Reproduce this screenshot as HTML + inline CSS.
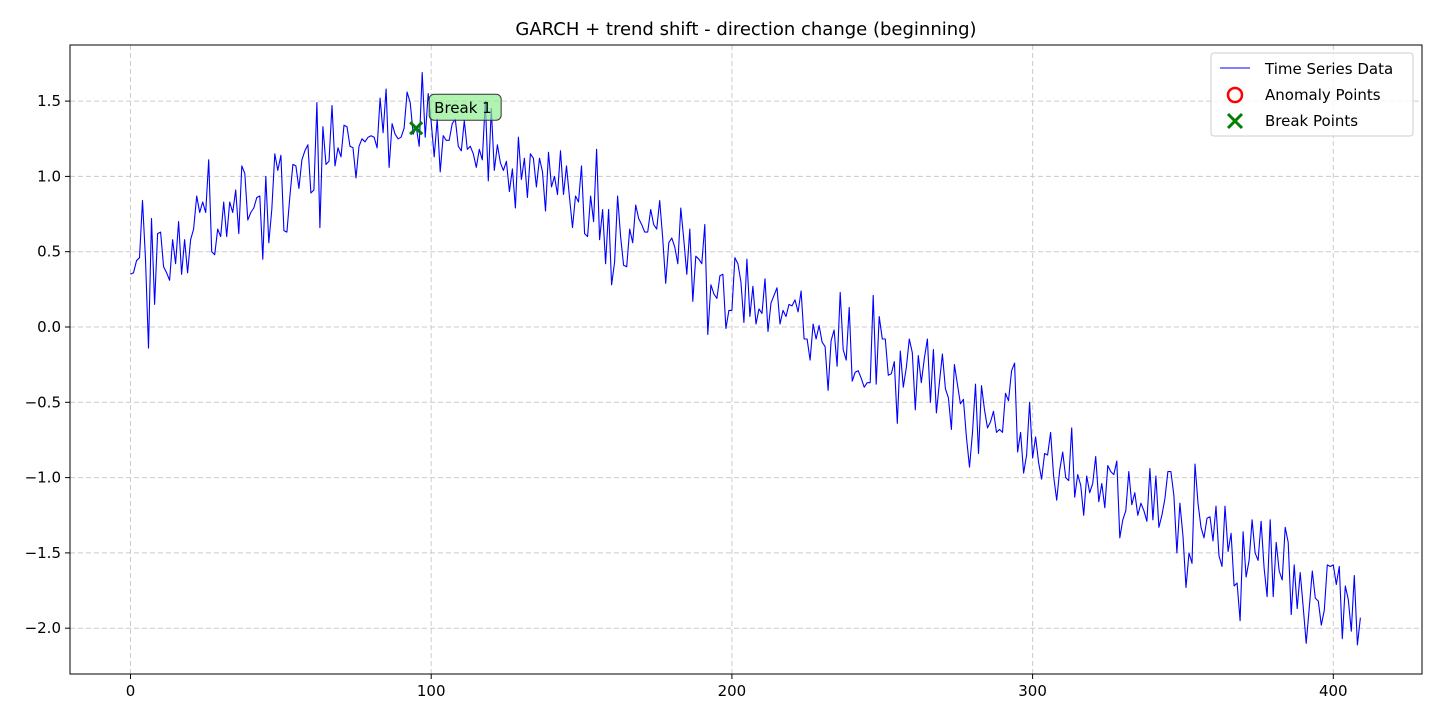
<!DOCTYPE html>
<html><head><meta charset="utf-8"><style>
body{margin:0;background:#fff;font-family:"Liberation Sans","DejaVu Sans",sans-serif}
svg text{font-family:"DejaVu Sans","Liberation Sans",sans-serif}
</style></head><body>
<svg id="chart" width="1440" height="720" xmlns="http://www.w3.org/2000/svg">
<rect width="1440" height="720" fill="#fff"/>
<text x="746" y="35" text-anchor="middle" font-size="18">GARCH + trend shift - direction change (beginning)</text>
<g id="grid"></g>
<g id="ticks"></g>
<polyline id="series" fill="none" stroke="#0000ff" stroke-width="1.1" stroke-linejoin="round"/>
<g id="marks"></g>
<rect x="70" y="45" width="1352" height="629" fill="none" stroke="#000" stroke-width="1"/>
<g>
<rect x="1211" y="53" width="202" height="83" rx="3" fill="#fff" fill-opacity="0.8" stroke="#ccc"/>
<line x1="1220" y1="68" x2="1250" y2="68" stroke="#0000ff" stroke-width="1.1"/>
<text x="1265" y="74" font-size="15">Time Series Data</text>
<circle cx="1235" cy="95" r="7" fill="none" stroke="#ff0000" stroke-width="2.5"/>
<text x="1265" y="100" font-size="15">Anomaly Points</text>
<path d="M1228,114 L1242,128 M1242,114 L1228,128" stroke="#008000" stroke-width="3"/>
<text x="1265" y="126" font-size="15">Break Points</text>
</g>
</svg>
<script>
const yValues=[0.35,0.36,0.44,0.46,0.84,0.45,-0.14,0.72,0.15,0.62,0.63,
0.40,0.36,0.31,0.58,0.42,0.70,0.35,0.58,0.36,0.58,
0.65,0.87,0.76,0.83,0.76,1.11,0.50,0.48,0.65,0.60,
0.83,0.60,0.83,0.76,0.91,0.62,1.07,1.02,0.71,0.76,
0.79,0.86,0.87,0.45,1.00,0.56,0.78,1.15,1.04,1.14,
0.64,0.63,0.87,1.08,1.07,0.92,1.11,1.17,1.21,0.89,
0.91,1.49,0.66,1.33,1.08,1.10,1.47,1.07,1.19,1.13,
1.34,1.33,1.20,1.19,0.99,1.20,1.25,1.23,1.26,1.27,
1.26,1.19,1.52,1.29,1.58,1.06,1.35,1.28,1.25,1.26,
1.32,1.56,1.49,1.28,1.33,1.20,1.69,1.26,1.55,1.36,
1.13,1.38,1.03,1.27,1.24,1.24,1.35,1.38,1.20,1.17,
1.37,1.18,1.20,1.15,1.06,1.18,1.11,1.50,0.97,1.45,
1.04,1.21,1.09,1.04,1.10,0.90,1.05,0.79,1.26,0.98,
1.12,0.86,1.15,1.12,0.93,1.12,1.03,0.77,1.16,0.93,
1.00,0.88,1.17,0.88,1.07,0.86,0.66,0.87,0.83,1.07,
0.62,0.60,0.87,0.70,1.18,0.58,0.78,0.42,0.78,0.28,
0.43,0.87,0.60,0.41,0.40,0.65,0.56,0.81,0.72,0.68,
0.63,0.63,0.78,0.68,0.65,0.84,0.59,0.29,0.56,0.59,
0.53,0.42,0.79,0.58,0.35,0.65,0.17,0.47,0.45,0.42,
0.68,-0.05,0.28,0.22,0.19,0.34,0.35,-0.01,0.11,0.11,
0.46,0.42,0.30,0.03,0.45,0.07,0.27,0.02,0.12,0.09,
0.32,-0.03,0.16,0.21,0.26,0.02,0.11,0.07,0.15,0.14,
0.18,0.10,0.24,-0.08,-0.08,-0.22,0.02,-0.08,0.01,-0.10,
-0.13,-0.42,-0.09,-0.02,-0.26,0.23,-0.15,-0.22,0.13,-0.36,
-0.30,-0.29,-0.34,-0.40,-0.37,-0.37,0.21,-0.38,0.07,-0.08,
-0.08,-0.32,-0.31,-0.23,-0.64,-0.16,-0.40,-0.27,-0.08,-0.17,
-0.55,-0.19,-0.37,-0.21,-0.08,-0.50,-0.15,-0.57,-0.37,-0.18,
-0.41,-0.47,-0.68,-0.25,-0.38,-0.51,-0.48,-0.73,-0.93,-0.70,
-0.38,-0.84,-0.39,-0.55,-0.67,-0.63,-0.56,-0.70,-0.68,-0.70,
-0.44,-0.49,-0.29,-0.24,-0.83,-0.70,-0.97,-0.85,-0.50,-0.87,
-0.73,-0.90,-1.01,-0.84,-0.85,-0.70,-0.99,-1.15,-0.95,-0.83,
-1.00,-1.02,-0.67,-1.13,-0.98,-1.05,-1.25,-0.99,-1.10,-1.04,
-0.86,-1.16,-1.04,-1.20,-0.92,-0.96,-0.98,-0.89,-1.40,-1.28,
-1.22,-0.96,-1.18,-1.10,-1.25,-1.17,-1.22,-1.29,-0.94,-1.28,
-0.99,-1.33,-1.25,-1.14,-0.96,-0.96,-1.12,-1.50,-1.17,-1.39,
-1.73,-1.50,-1.57,-0.91,-1.17,-1.33,-1.40,-1.27,-1.26,-1.42,
-1.19,-1.52,-1.59,-1.19,-1.49,-1.37,-1.72,-1.70,-1.95,-1.36,
-1.66,-1.55,-1.28,-1.50,-1.55,-1.29,-1.60,-1.79,-1.28,-1.79,
-1.43,-1.62,-1.68,-1.33,-1.43,-1.91,-1.58,-1.87,-1.63,-1.86,
-2.10,-1.87,-1.62,-1.80,-1.82,-1.98,-1.88,-1.58,-1.59,-1.58,
-1.71,-1.59,-2.07,-1.72,-1.81,-2.02,-1.65,-2.11,-1.93];
const xTicks=[0,100,200,300,400];
const yTicks=[-2.0,-1.5,-1.0,-0.5,0.0,0.5,1.0,1.5];
const breakX=[95];
const breakY=[1.32];
const breakLabels=["Break 1"];

const NS="http://www.w3.org/2000/svg";
const L=70,R=1422,T=45,B=674;
const xScale=v=>130.5+v*3.007;
const yScale=v=>327-v*150.6;
function mk(tag,attrs,parent){const e=document.createElementNS(NS,tag);for(const k in attrs)e.setAttribute(k,attrs[k]);parent.appendChild(e);return e;}
const grid=document.getElementById('grid'),ticks=document.getElementById('ticks');
xTicks.forEach(t=>{const x=xScale(t);
 const g=mk('line',{x1:x,x2:x,y1:T,y2:B,stroke:'#ccc','stroke-dasharray':'5,3'},grid);
 
 
 mk('line',{x1:x,x2:x,y1:B,y2:B+5,stroke:'#000'},ticks);
 const tx=mk('text',{x:x,y:B+22,'text-anchor':'middle','font-size':'15'},ticks);
 tx.textContent=t;
 
 
});
yTicks.forEach(t=>{const y=yScale(t);
 const g=mk('line',{x1:L,x2:R,y1:y,y2:y,stroke:'#ccc','stroke-dasharray':'5,3'},grid);
 
 
 mk('line',{x1:L-5,x2:L,y1:y,y2:y,stroke:'#000'},ticks);
 const tx=mk('text',{x:L-9,y:y+5,'text-anchor':'end','font-size':'15'},ticks);
 tx.textContent=(t<0?'\u2212':'')+Math.abs(t).toFixed(1);
 
 
});
document.getElementById('series').setAttribute('points',yValues.map((v,i)=>xScale(i).toFixed(1)+','+yScale(v).toFixed(1)).join(' '));
const marks=document.getElementById('marks');
breakX.forEach((bx,i)=>{const x=xScale(bx),y=yScale(breakY[i]);
 const p=mk('path',{d:`M${x-6},${y-6}L${x+6},${y+6}M${x+6},${y-6}L${x-6},${y+6}`,stroke:'#008000','stroke-width':3},marks);
 
 
 const r=mk('rect',{x:x+13,y:y-34,width:72,height:26,rx:5,fill:'#90ee90','fill-opacity':0.7,stroke:'#333'},marks);
 
 
 const t=mk('text',{x:x+18,y:y-15,'font-size':'15'},marks);
 t.textContent=breakLabels[i];
 
 
});
</script>
</body></html>
